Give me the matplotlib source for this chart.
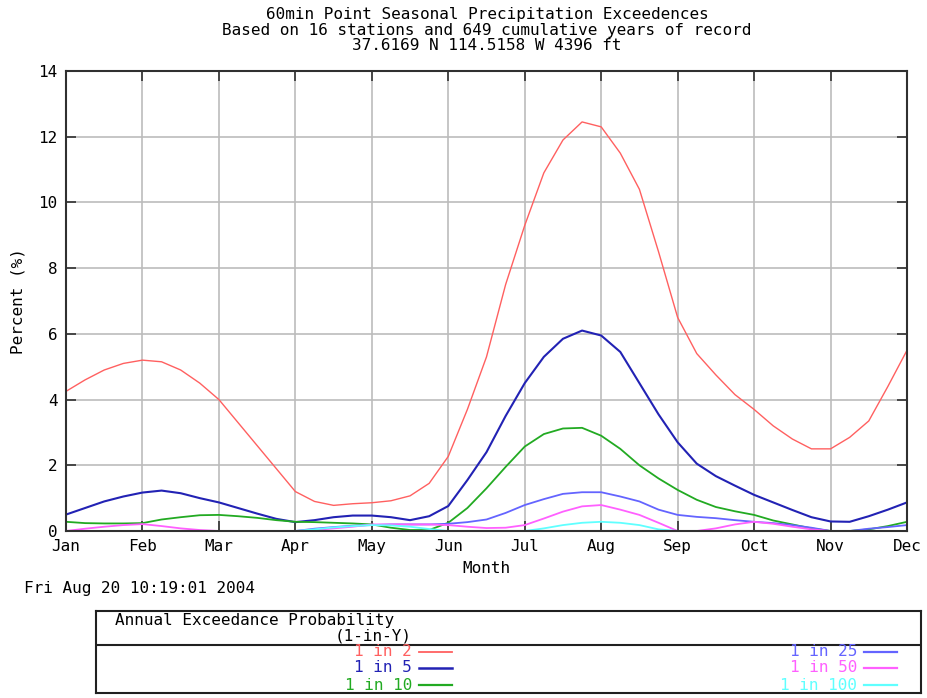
import numpy as np
import matplotlib
matplotlib.use('Agg')
import matplotlib.pyplot as plt
from matplotlib.lines import Line2D

# Datos (porcentaje, cada cuarto de mes).
meses = ['Jan', 'Feb', 'Mar', 'Apr', 'May', 'Jun',
         'Jul', 'Aug', 'Sep', 'Oct', 'Nov', 'Dec']
x_mes = np.linspace(0, 11, 45)

en_2 = [4.25, 4.6, 4.9, 5.1, 5.2, 5.15, 4.9, 4.5, 4.0, 3.3, 2.6, 1.9,
        1.2, 0.9, 0.78, 0.83, 0.86, 0.92, 1.07, 1.45, 2.27, 3.7, 5.3, 7.5,
        9.3, 10.9, 11.9, 12.45, 12.3, 11.5, 10.4, 8.5, 6.5, 5.4, 4.75, 4.15,
        3.7, 3.2, 2.8, 2.5, 2.5, 2.85, 3.35, 4.4, 5.5]
en_5 = [0.5, 0.7, 0.9, 1.05, 1.17, 1.23, 1.15, 1.0, 0.87, 0.7, 0.53, 0.37,
        0.27, 0.33, 0.42, 0.47, 0.47, 0.42, 0.33, 0.45, 0.76, 1.55, 2.4, 3.5,
        4.5, 5.3, 5.85, 6.1, 5.95, 5.45, 4.5, 3.55, 2.7, 2.05, 1.67, 1.38,
        1.1, 0.87, 0.64, 0.42, 0.29, 0.28, 0.45, 0.65, 0.87]
en_10 = [0.28, 0.24, 0.23, 0.23, 0.24, 0.35, 0.42, 0.48, 0.49, 0.45, 0.4, 0.33,
         0.28, 0.27, 0.25, 0.23, 0.2, 0.1, 0.03, 0.03, 0.25, 0.7, 1.3, 1.95,
         2.57, 2.95, 3.12, 3.14, 2.9, 2.5, 2.0, 1.6, 1.25, 0.95, 0.73, 0.6,
         0.49, 0.32, 0.2, 0.08, 0.0, 0.0, 0.05, 0.15, 0.28]
en_25 = [0.0, 0.0, 0.0, 0.0, 0.0, 0.0, 0.0, 0.0, 0.0, 0.0, 0.0, 0.0,
         0.0, 0.07, 0.12, 0.16, 0.18, 0.2, 0.2, 0.2, 0.22, 0.27, 0.35, 0.55,
         0.79, 0.97, 1.13, 1.18, 1.18, 1.05, 0.9, 0.65, 0.49, 0.43, 0.39, 0.33,
         0.28, 0.24, 0.18, 0.1, 0.0, 0.0, 0.07, 0.12, 0.18]
en_50 = [0.0, 0.07, 0.13, 0.18, 0.21, 0.15, 0.08, 0.03, 0.0, 0.0, 0.0, 0.0,
         0.0, 0.03, 0.08, 0.13, 0.2, 0.2, 0.2, 0.2, 0.18, 0.13, 0.09, 0.1,
         0.18, 0.38, 0.59, 0.75, 0.79, 0.65, 0.49, 0.25, 0.0, 0.0, 0.08, 0.2,
         0.28, 0.22, 0.13, 0.05, 0.0, 0.0, 0.0, 0.0, 0.0]
en_100 = [0.0, 0.0, 0.0, 0.0, 0.0, 0.0, 0.0, 0.0, 0.0, 0.0, 0.0, 0.0,
          0.0, 0.05, 0.11, 0.15, 0.18, 0.17, 0.13, 0.06, 0.0, 0.0, 0.0, 0.0,
          0.0, 0.08, 0.18, 0.25, 0.28, 0.25, 0.18, 0.05, 0.0, 0.0, 0.0, 0.0,
          0.0, 0.0, 0.0, 0.0, 0.0, 0.0, 0.0, 0.0, 0.0]

series = [en_2, en_5, en_10, en_25, en_50, en_100]
etiquetas = ['1 in 2', '1 in 5', '1 in 10', '1 in 25', '1 in 50', '1 in 100']
colores = ['#ff6060', '#2222b4', '#22aa22', '#6464ff', '#ff60ff', '#60ffff']
grosores = [1.0, 1.5, 1.3, 1.3, 1.3, 1.3]
titulo = ['60min Point Seasonal Precipitation Exceedences',
          'Based on 16 stations and 649 cumulative years of record',
          '37.6169 N 114.5158 W 4396 ft']

fuente = 'DejaVu Sans Mono'
plt.rcParams['font.family'] = fuente
fs = 11.5
W, H = 927, 698

fig = plt.figure(figsize=(W / 100, H / 100), dpi=100)
ax = fig.add_axes([66 / W, 1 - 531 / H, 841 / W, 460 / H])

for y, c, lw in zip(series, colores, grosores):
    ax.plot(x_mes, y, color=c, lw=lw, zorder=3)

ax.set_xlim(0, 11)
ax.set_ylim(0, 14)
ax.set_xticks(range(12))
ax.set_xticklabels(meses)
ax.set_yticks(range(0, 15, 2))
ax.grid(True, color='#bcbcbc', lw=1.2)
ax.set_axisbelow(True)
ax.tick_params(direction='in', length=7, width=1.2, color='#303030',
               top=True, right=True, labelsize=fs, pad=6)
for s in ax.spines.values():
    s.set_color('#303030')
    s.set_linewidth(1.5)
    s.set_zorder(4)
ax.set_xlabel('Month', fontsize=fs, labelpad=5)
ax.set_ylabel('Percent (%)', fontsize=fs, labelpad=9)

for i, linea in enumerate(titulo):
    fig.text(487 / W, 1 - (14 + 16 * i) / H, linea,
             ha='center', va='center', fontsize=fs)
fig.text(24 / W, 1 - 588 / H, 'Fri Aug 20 10:19:01 2004',
         ha='left', va='center', fontsize=fs)

# Cuadro de leyenda en coordenadas de pixel.
lg = fig.add_axes([96 / W, 1 - 693 / H, 825 / W, 82 / H])
lg.set_xlim(96, 921)
lg.set_ylim(693, 611)
lg.set_xticks([])
lg.set_yticks([])
for s in lg.spines.values():
    s.set_color('#202020')
    s.set_linewidth(1.5)
lg.plot([96, 921], [645, 645], color='#202020', lw=1.5)
lg.text(115, 620, 'Annual Exceedance Probability', ha='left', va='center',
        fontsize=fs)
lg.text(412, 636, '(1-in-Y)', ha='right', va='center', fontsize=fs)

filas = [652, 668, 685]
for i, (nombre, c, lw) in enumerate(zip(etiquetas, colores, grosores)):
    col = i // 3
    xt = 412 if col == 0 else 857
    yt = filas[i % 3]
    lg.text(xt, yt, nombre, ha='right', va='center', color=c, fontsize=fs)
    lg.add_line(Line2D([xt + 7, xt + 40], [yt, yt], color=c, lw=lw + 0.3))

fig.savefig('out.png', dpi=100)
